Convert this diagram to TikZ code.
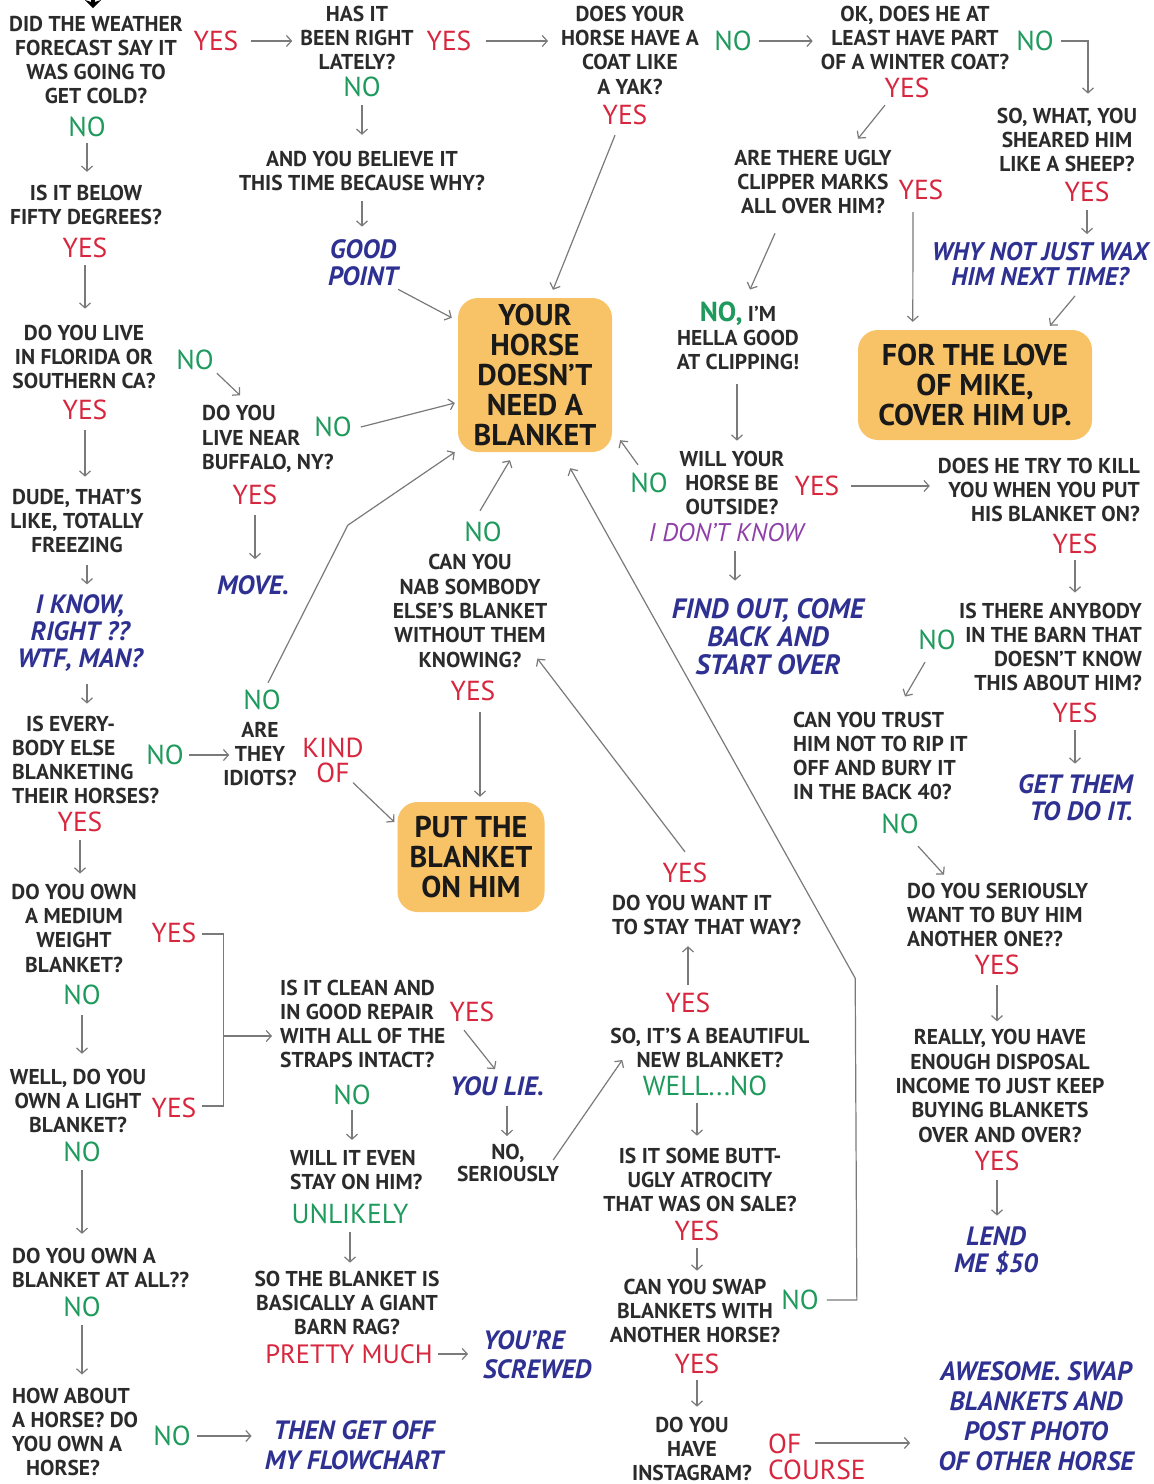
\documentclass[tikz,border=0pt]{standalone}
\usepackage{fontspec}
\setmainfont{PT Sans}
\usetikzlibrary{arrows.meta,calc}
\definecolor{qcol}{HTML}{2B2B2B}
\definecolor{ycol}{HTML}{D7263D}
\definecolor{ncol}{HTML}{1E9A5C}
\definecolor{bcol}{HTML}{2E3192}
\definecolor{pcol}{HTML}{8E3FA8}
\definecolor{ocol}{HTML}{F8C366}
\definecolor{acol}{HTML}{7A7A7A}
\newcommand\myq{\fontsize{21.5}{24.3}\selectfont\bfseries}
\newcommand\mya{\fontsize{27.5}{24}\selectfont}
\newcommand\myi{\fontsize{26.5}{27}\selectfont\bfseries\itshape}
\newcommand\myiw{\fontsize{26.5}{30}\selectfont\bfseries\itshape}
\newcommand\myb{\fontsize{30}{30}\selectfont\bfseries}
\tikzset{
  q/.style={font=\myq, text=qcol, align=center, inner sep=0pt},
  ql/.style={q, align=left, anchor=west},
  qr/.style={q, align=right, anchor=east},
  yes/.style={font=\mya, text=ycol, inner sep=0pt, align=center},
  no/.style={font=\mya, text=ncol, inner sep=0pt},
  ans/.style={font=\myi, text=bcol, align=center, inner sep=0pt},
  dk/.style={font=\fontsize{25.5}{26}\selectfont\itshape, text=pcol, inner sep=0pt},
  box/.style={fill=ocol, rounded corners=20pt, font=\myb, text=black!90, align=center, inner sep=0pt},
  arr/.style={draw=acol, line width=1.2pt, -{Straight Barb[length=5pt,width=11pt,line width=1.2pt]}},
  ln/.style={draw=acol, line width=1.2pt},
}
\begin{document}
\begin{tikzpicture}[x=1pt,y=-1pt]
\fill[white] (0,0) rectangle (1154,1484);
\useasboundingbox (0,0) rectangle (1154,1484);
\draw[line width=3.5pt, -{Stealth[length=8pt,width=16pt]}] (93,-14) -- (93,8);

% ---------- left column ----------
\node[q] (q1) at (96,60) {DID THE WEATHER\\FORECAST SAY IT\\WAS GOING TO\\GET COLD?};
\node[yes] (q1yes) at (216,41) {YES};
\node[no] (q1no) at (87,127) {NO};
\node[q] (q15) at (86,205) {IS IT BELOW\\FIFTY DEGREES?};
\node[yes] (q15yes) at (85,248) {YES};
\node[q] (q16) at (84,357) {DO YOU LIVE\\IN FLORIDA OR\\SOUTHERN CA?};
\node[no] (q16no) at (195,360) {NO};
\node[yes] (q16yes) at (85,410) {YES};
\node[q] (q17) at (77,521) {DUDE, THAT’S\\LIKE, TOTALLY\\FREEZING};
\node[ans] (a6) at (80,633) {I KNOW,\\RIGHT ??\\WTF, MAN?};
\node[ql] (q18) at (12,760) {\hspace*{14pt}IS EVERY-\\BODY ELSE\\BLANKETING\\THEIR HORSES?};
\node[no] (q18no) at (165,755) {NO};
\node[yes] (q18yes) at (80,822) {YES};
\node[q] (q19) at (74,928) {DO YOU OWN\\A MEDIUM\\WEIGHT\\BLANKET?};
\node[yes] (q19yes) at (174,933) {YES};
\node[no] (q19no) at (82,995) {NO};
\node[q] (q20) at (78,1101) {WELL, DO YOU\\OWN A LIGHT\\BLANKET?};
\node[yes] (q20yes) at (174,1108) {YES};
\node[no] (q20no) at (82,1152) {NO};
\node[ql] (q21) at (12,1268) {DO YOU OWN A\\BLANKET AT ALL??};
\node[no] (q21no) at (82,1307) {NO};
\node[ql] (q22) at (12,1432) {HOW ABOUT\\A HORSE? DO\\YOU OWN A\\\hspace*{14pt}HORSE?};
\node[no] (q22no) at (172,1436) {NO};
\node[ans, font=\myiw] (a7) at (354,1445) {THEN GET OFF\\MY FLOWCHART};

% ---------- top / middle ----------
\node[q] (q2) at (357,38) {HAS IT\\BEEN RIGHT\\LATELY?};
\node[yes] (q2yes) at (449,41) {YES};
\node[no] (q2no) at (362,87) {NO};
\node[q] (q3) at (362,171) {AND YOU BELIEVE IT\\THIS TIME BECAUSE WHY?};
\node[ans] (a1) at (363,263) {GOOD\\POINT};
\node[q] (q4) at (630,50) {DOES YOUR\\HORSE HAVE A\\COAT LIKE\\A YAK?};
\node[no] (q4no) at (733,41) {NO};
\node[yes] (q4yes) at (625,115) {YES};
\node[q] (q5) at (915,38) {OK, DOES HE AT\\LEAST HAVE PART\\OF A WINTER COAT?};
\node[no] (q5no) at (1035,41) {NO};
\node[yes] (q5yes) at (907,88) {YES};
\node[q] (q6) at (1067,140) {SO, WHAT, YOU\\SHEARED HIM\\LIKE A SHEEP?};
\node[yes] (q6yes) at (1087,192) {YES};
\node[ans, font=\fontsize{25.5}{25}\selectfont\bfseries\itshape] (a2) at (1040,264) {WHY NOT JUST WAX\\HIM NEXT TIME?};
\node[q] (q7) at (813,182) {ARE THERE UGLY\\CLIPPER MARKS\\ALL OVER HIM?};
\node[yes] (q7yes) at (921,190) {YES};
\node[q] (q8) at (738,336) {{\mya\color{ncol}NO,} I’M\\HELLA GOOD\\AT CLIPPING!};
\node[box, minimum width=154pt, minimum height=154pt] (box1) at (535,375) {YOUR\\HORSE\\DOESN’T\\NEED A\\BLANKET};
\node[box, minimum width=234pt, minimum height=110pt] (box2) at (975,385) {FOR THE LOVE\\OF MIKE,\\COVER HIM UP.};
\node[q] (q9) at (732,483) {WILL YOUR\\HORSE BE\\OUTSIDE?};
\node[no] (q9no) at (649,483) {NO};
\node[yes] (q9yes) at (817,486) {YES};
\node[dk] (q9dk) at (726,533) {I DON’T KNOW};
\node[ans, font=\fontsize{28}{28}\selectfont\bfseries\itshape] (a3) at (768,637) {FIND OUT, COME\\BACK AND\\START OVER};

% ---------- right column ----------
\node[qr] (q10) at (1140,490) {DOES HE TRY TO KILL\\YOU WHEN YOU PUT\\HIS BLANKET ON?};
\node[yes] (q10yes) at (1075,544) {YES};
\node[qr] (q11) at (1142,647) {IS THERE ANYBODY\\IN THE BARN THAT\\DOESN’T KNOW\\THIS ABOUT HIM?};
\node[no] (q11no) at (937,640) {NO};
\node[yes] (q11yes) at (1075,713) {YES};
\node[ans, align=right, anchor=east] (a4) at (1133,798) {GET THEM\\TO DO IT.};
\node[ql] (q12) at (793,756) {CAN YOU TRUST\\HIM NOT TO RIP IT\\OFF AND BURY IT\\IN THE BACK 40?};
\node[no] (q12no) at (900,824) {NO};
\node[ql] (q13) at (907,915) {DO YOU SERIOUSLY\\WANT TO BUY HIM\\ANOTHER ONE??};
\node[yes] (q13yes) at (997,965) {YES};
\node[q] (q14) at (1000,1086) {REALLY, YOU HAVE\\ENOUGH DISPOSAL\\INCOME TO JUST KEEP\\BUYING BLANKETS\\OVER AND OVER?};
\node[yes] (q14yes) at (997,1161) {YES};
\node[ans] (a5) at (996,1251) {LEND\\ME \$50};

% ---------- centre ----------
\node[ql] (q23) at (202,439) {DO YOU\\LIVE NEAR\\BUFFALO, NY?};
\node[no] (q23no) at (333,427) {NO};
\node[yes] (q23yes) at (255,495) {YES};
\node[ans] (a8) at (253,585) {MOVE.};
\node[q] (q24) at (260,754) {ARE\\THEY\\IDIOTS?};
\node[no] (q24no) at (262,700) {NO};
\node[yes, font=\fontsize{27.5}{25}\selectfont] (q24kind) at (333,760) {KIND\\OF};
\node[q] (q25) at (470,611) {CAN YOU\\NAB SOMBODY\\ELSE’S BLANKET\\WITHOUT THEM\\KNOWING?};
\node[no] (q25no) at (483,532) {NO};
\node[yes] (q25yes) at (473,691) {YES};
\node[box, minimum width=147pt, minimum height=110pt] (box3) at (471,857) {PUT THE\\BLANKET\\ON HIM};
\node[ql] (q26) at (280,1024) {IS IT CLEAN AND\\IN GOOD REPAIR\\WITH ALL OF THE\\STRAPS INTACT?};
\node[yes] (q26yes) at (472,1012) {YES};
\node[no] (q26no) at (352,1095) {NO};
\node[ans] (a9) at (497,1086) {YOU LIE.};
\node[q, font=\fontsize{21.5}{22}\selectfont\bfseries] (q27) at (508,1163) {NO,\\SERIOUSLY};
\node[ql] (q28) at (290,1170) {WILL IT EVEN\\STAY ON HIM?};
\node[no] (q28u) at (350,1214) {UNLIKELY};
\node[q] (q29) at (347,1303) {SO THE BLANKET IS\\BASICALLY A GIANT\\BARN RAG?};
\node[yes, font=\fontsize{26.5}{24}\selectfont] (q29pm) at (349,1354) {PRETTY MUCH};
\node[ans, font=\fontsize{26.5}{29}\selectfont\bfseries\itshape, align=left, anchor=west] (a10) at (483,1355) {YOU’RE\\SCREWED};
\node[ql] (q30) at (612,915) {DO YOU WANT IT\\TO STAY THAT WAY?};
\node[yes] (q30yes) at (685,873) {YES};
\node[yes] (q31yes) at (688,1003) {YES};
\node[q] (q31) at (710,1048) {SO, IT’S A BEAUTIFUL\\NEW BLANKET?};
\node[no] (q31no) at (705,1086) {WELL...NO};
\node[q] (q32) at (700,1180) {IS IT SOME BUTT-\\UGLY ATROCITY\\THAT WAS ON SALE?};
\node[yes] (q32yes) at (697,1231) {YES};
\node[q] (q33) at (695,1311) {CAN YOU SWAP\\BLANKETS WITH\\ANOTHER HORSE?};
\node[no] (q33no) at (800,1300) {NO};
\node[yes] (q33yes) at (697,1364) {YES};
\node[q] (q34) at (692,1449) {DO YOU\\HAVE\\INSTAGRAM?};
\node[yes, font=\fontsize{27.5}{25.5}\selectfont, align=left, anchor=west] (q34oc) at (768,1457) {OF\\COURSE};
\node[ans, font=\myiw] (a11) at (1036,1416) {AWESOME. SWAP\\BLANKETS AND\\POST PHOTO\\OF OTHER HORSE};

% ---------- connectors ----------
% left column
\draw[arr, shorten <=12pt, shorten >=8pt] (q1yes.east) -- (q1yes.east -| q2.west);
\draw[arr, shorten <=6pt, shorten >=13pt] (q1no.south) -- (q1no.south |- q15.north);
\draw[arr, shorten <=7pt, shorten >=16pt] (q15yes.south) -- (q15yes.south |- q16.north);
\draw[arr] ($(q16no.south east)+(3,3)$) -- ($(q23.north west)+(38,-10)$);
\draw[arr, shorten <=10pt, shorten >=12pt] (q16yes.south) -- (q16yes.south |- q17.north);
\draw[arr] ($(q17.south)+(10,12)$) -- ($(a6.north)+(7,-10)$);
\draw[arr] ($(a6.south)+(7,12)$) -- ($(a6.south)+(7,32)$);
\draw[arr, shorten <=5pt] (q18no.east) -- ($(q24.west |- q18no.east)+(6,0)$);
\draw[arr, shorten <=8pt, shorten >=10pt] (q18yes.south) -- (q18yes.south |- q19.north);
\draw[ln] ($(q19yes.east)+(5,1)$) -- ++(22,0) coordinate (brtop) |- ($(q20yes.east)+(5,-2)$);
\draw[arr] (brtop |- q26.west) ++(0,12) -- ($(q26.west)+(-8,12)$);
\draw[arr, shorten <=10pt, shorten >=15pt] (q19no.south) -- (q19no.south |- q20.north);
\draw[arr, shorten <=8pt, shorten >=14pt] (q20no.south) -- (q20no.south |- q21.north);
\draw[arr, shorten <=8pt, shorten >=13pt] (q21no.south) -- (q21no.south |- q22.north);
\draw[arr, shorten <=6pt, shorten >=13pt] (q22no.east) -- (q22no.east -| a7.west);

% top row
\draw[arr, shorten <=14pt, shorten >=13pt] (q2yes.east) -- (q2yes.east -| q4.west);
\draw[arr, shorten <=8pt, shorten >=16pt] (q2no.south) -- (q2no.south |- q3.north);
\draw[arr, shorten <=10pt, shorten >=13pt] (q3.south) -- (q3.south |- a1.north);
\draw[arr] ($(a1.south east)+(0,3)$) -- ($(box1.north west)+(-6,20)$);
\draw[arr, shorten <=7pt, shorten >=8pt] (q4no.east) -- (q4no.east -| q5.west);
\draw[arr] ($(q4yes.south)+(-10,10)$) -- ($(box1.north)+(18,-8)$);
\draw[arr] ($(q5no.east)+(7,0)$) -| ($(q6.north)+(21,-14)$);
\draw[arr] ($(q5yes.south)+(-22,7)$) -- ($(q7.north)+(45,-11)$);
\draw[arr, shorten <=8pt, shorten >=8pt] (q6yes.south) -- (q6yes.south |- a2.north);
\draw[arr] ($(a2.south)+(35,10)$) -- ($(box2.north)+(75,-4)$);
\draw[arr] ($(q7yes.south)+(-8,12)$) -- ($(box2.north west)+(55,-8)$);
\draw[arr] ($(q7.south)+(-38,19)$) -- ($(q8.north)+(12,-12)$);
\draw[arr] ($(q8.south)+(-1,14)$) -- ($(q8.south |- q9.north)+(-1,-10)$);
\draw[arr] ($(q9no.north)+(-11,-8)$) -- ($(box1.south east)+(8,-12)$);
\draw[arr, shorten <=11pt, shorten >=8pt] (q9yes.east) -- (q9yes.east -| q10.west);
\draw[arr] ($(q9dk.south)+(9,9)$) -- ($(q9dk.south |- a3.north)+(9,-18)$);

% right column
\draw[arr, shorten <=6pt, shorten >=10pt] (q10yes.south) -- (q10yes.south |- q11.north);
\draw[arr] ($(q11no.south)+(-12,12)$) -- ($(q12.north west)+(112,-15)$);
\draw[arr, shorten <=7pt, shorten >=11pt] (q11yes.south) -- (q11yes.south |- a4.north);
\draw[arr] ($(q12no.south)+(18,12)$) -- ($(q13.north west)+(37,-8)$);
\draw[arr, shorten <=10pt, shorten >=8pt] (q13yes.south) -- (q13yes.south |- q14.north);
\draw[arr, shorten <=9pt, shorten >=11pt] (q14yes.south) -- (q14yes.south |- a5.north);

% centre
\draw[arr] ($(q23no.east)+(9,0)$) -- ($(box1.west)+(-3,28)$);
\draw[arr, shorten <=10pt, shorten >=16pt] (q23yes.south) -- (q23yes.south |- a8.north);
\draw[arr] ($(q24no.north)+(6,-7)$) -- ($(box1.south west)+(-110,73)$) -- ($(box1.south west)+(-3,0)$);
\draw[arr] ($(q24kind.south)+(20,0)$) -- ($(box3.west)+(-3,-35)$);
\draw[arr] ($(q25no.north)+(-3,-11)$) -- ($(box1.south)+(-25,8)$);
\draw[arr] ($(q25yes.south)+(7,11)$) -- ($(box3.north)+(9,-5)$);
\draw[arr] ($(q26yes.south)+(-8,8)$) -- ($(a9.north)+(-2,-7)$);
\draw[arr, shorten <=5pt, shorten >=10pt] (q26no.south) -- (q26no.south |- q28.north);
\draw[arr] ($(a9.south)+(10,10)$) -- ($(a9.south |- q27.north)+(10,-8)$);
\draw[arr] ($(q27.east)+(-6,-3)$) -- ($(q31.west)+(12,12)$);
\draw[arr, shorten <=8pt, shorten >=8pt] (q28u.south) -- (q28u.south |- q29.north);
\draw[arr, shorten <=5pt, shorten >=15pt] (q29pm.east) -- (q29pm.east -| a10.west);
\draw[arr] ($(q30yes.north)+(0,-11)$) -- ($(q25.south east)+(-10,-9)$);
\draw[arr, shorten <=8pt, shorten >=11pt] (q31yes.north) -- (q31yes.north |- q30.south);
\draw[arr] ($(q31no.south)+(-8,7)$) -- ($(q31no.south |- q32.north)+(-8,-12)$);
\draw[arr, shorten <=7pt, shorten >=8pt] (q32yes.south) -- (q32yes.south |- q33.north);
\draw[arr] ($(q33no.east)+(8,0)$) -- ($(q33no.east)+(38,0)$) -- ($(box1.south east)+(243,526)$) -- ($(box1.south east)+(-42,16)$);
\draw[arr, shorten <=6pt, shorten >=10pt] (q33yes.south) -- (q33yes.south |- q34.north);
\draw[arr] ($(q34oc.west)+(47,-14)$) -- ($(a11.west)+(-28,27)$);
\end{tikzpicture}
\end{document}
